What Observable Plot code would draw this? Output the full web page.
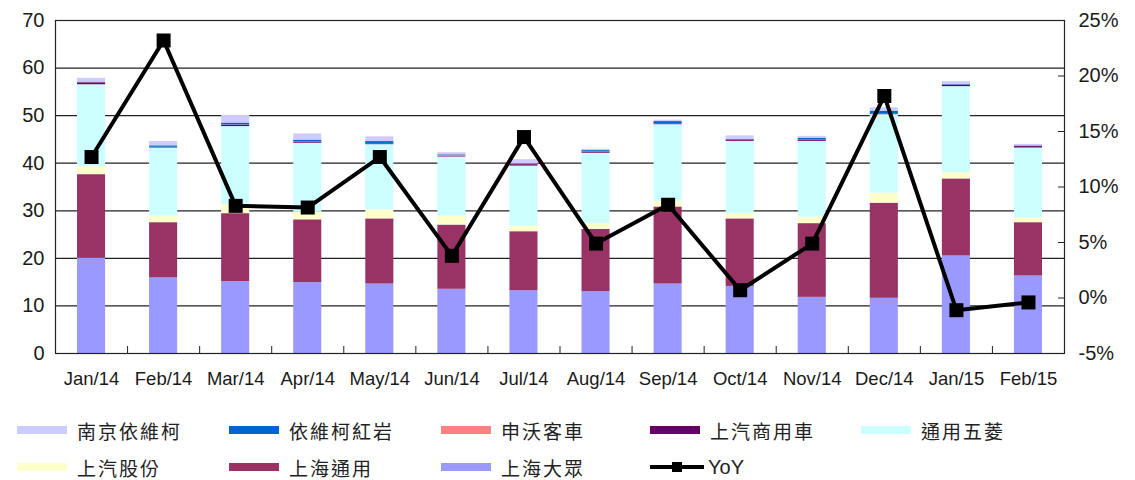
<!DOCTYPE html>
<html><head><meta charset="utf-8">
<script src="https://cdn.jsdelivr.net/npm/d3@7"></script>
<script src="https://cdn.jsdelivr.net/npm/@observablehq/plot@0.6"></script>
<style>
body{margin:0;background:#fff;}
#wrap{position:relative;width:1135px;height:480px;overflow:hidden;background:#fff;}
.lg{position:absolute;height:24px;display:flex;align-items:center;font-family:"Noto Sans CJK TC","Noto Sans CJK SC",sans-serif;font-size:19px;color:#222;letter-spacing:2px;white-space:nowrap;}
.sw{width:50px;height:8px;margin-right:10px;flex:none;}
.yoy{font-family:"Liberation Sans",Arial,sans-serif;letter-spacing:0;font-size:20px;}
</style></head><body><div id="wrap"></div>
<script>
const months = ["Jan/14","Feb/14","Mar/14","Apr/14","May/14","Jun/14","Jul/14","Aug/14","Sep/14","Oct/14","Nov/14","Dec/14","Jan/15","Feb/15"];
// stack order: bottom to top
const seriesNames = ["上海大眾","上海通用","上汽股份","通用五菱","上汽商用車","申沃客車","依維柯紅岩","南京依維柯"];
const seriesColors = ["#9999FF","#993366","#FFFFCC","#CCFFFF","#660066","#FF8080","#0066CC","#CCCCFF"];
const dazhong    = [20.0,15.9,15.1,14.9,14.6,13.5,13.2,13.0,14.6,14.1,11.8,11.6,20.5,16.3];
const gm         = [17.6,11.6,14.3,13.2,13.7,13.5,12.4,13.1,16.2,14.2,15.5,20.0,16.2,11.2];
const saic       = [1.7,1.4,1.9,1.6,1.9,1.9,1.2,1.2,1.2,1.1,1.4,2.1,1.3,1.0];
const wuling     = [17.2,14.3,16.4,14.5,13.7,12.4,12.6,14.8,16.1,15.2,15.9,16.5,18.1,14.7];
const commercial = [0.4,0.1,0.3,0.2,0.2,0.1,0.3,0.2,0.2,0.3,0.3,0.2,0.3,0.3];
const shenwo     = [0.05,0.05,0.05,0.05,0.05,0.3,0.05,0.05,0.05,0.05,0.05,0.05,0.05,0.05];
const hongyan    = [0.1,0.3,0.4,0.4,0.4,0.1,0.1,0.3,0.4,0.1,0.3,0.5,0.1,0.1];
const nanjing    = [0.8,0.9,1.6,1.3,1.0,0.4,0.9,0.3,0.3,0.7,0.4,0.7,0.6,0.3];
const yoy        = [12.7,23.2,8.3,8.15,12.7,3.8,14.5,4.9,8.4,0.7,4.9,18.2,-1.1,-0.4];
const leftTicks  = [0,10,20,30,40,50,60,70];
const rightTicks = [-5,0,5,10,15,20,25];
const rightTickLabels = ["-5%","0%","5%","10%","15%","20%","25%"];
const legendRow1 = ["南京依維柯","依維柯紅岩","申沃客車","上汽商用車","通用五菱"];
const legendRow2 = ["上汽股份","上海通用","上海大眾"];

const seriesValues = [dazhong,gm,saic,wuling,commercial,shenwo,hongyan,nanjing];
const long = [];
months.forEach((m,i)=>{
  seriesNames.forEach((s,k)=>{ long.push({i, month:m, series:s, value:seriesValues[k][i]}); });
});
const toLeft = d3.scaleLinear([-5,25],[0,70]);
const yoyRows = months.map((m,i)=>({i, month:m, v:yoy[i]}));
const centers = months.map((m,i)=>i+0.5);
const bounds = d3.range(1, months.length);

const chart = Plot.plot({
  width:1135, height:400,
  marginLeft:55, marginRight:71, marginTop:20, marginBottom:47,
  style:{fontFamily:"Liberation Sans, Arial, sans-serif", fontSize:"18px", color:"#1a1a1a", background:"#fff"},
  x:{domain:[0,months.length], axis:null},
  y:{domain:[0,70], axis:null},
  color:{domain:seriesNames, range:seriesColors},
  marks:[
    Plot.gridY(leftTicks, {stroke:"#222", strokeOpacity:1, strokeWidth:1.2}),
    Plot.rectY(long, {x:"i", interval:1, y:"value", fill:"series", insetLeft:22, insetRight:22}),
    Plot.frame({stroke:"#222", strokeWidth:1.2}),
    Plot.tickX(bounds, {x:d=>d, stroke:"#222", insetTop:326}),
    Plot.tickY(rightTicks, {y:d=>toLeft(d), stroke:"#222", insetLeft:1003}),
    Plot.axisY({ticks:leftTicks, tickSize:0, tickPadding:11, anchor:"left", label:null, fontSize:20}),
    Plot.axisY({ticks:rightTicks.map(d=>toLeft(d)), tickSize:0, tickPadding:14, anchor:"right", label:null, fontSize:20,
      tickFormat:(d)=>rightTickLabels[rightTicks.findIndex(t=>Math.abs(toLeft(t)-d)<1e-6)]}),
    Plot.axisX({ticks:centers, tickSize:0, tickPadding:18, anchor:"bottom", label:null, fontSize:18.5,
      tickFormat:(d)=>months[Math.floor(d)]}),
    Plot.line(yoyRows, {x:d=>d.i+0.5, y:d=>toLeft(d.v), stroke:"#000", strokeWidth:4}),
    Plot.dot(yoyRows, {x:d=>d.i+0.5, y:d=>toLeft(d.v), symbol:"square", r:7.9, fill:"#000", stroke:null})
  ]
});
const wrap = document.getElementById("wrap");
wrap.appendChild(chart);

const colorOf = s => seriesColors[seriesNames.indexOf(s)];
const col = [17,229,441,650,861];
function addItem(name, left, top){
  const d = document.createElement("div");
  d.className="lg"; d.style.left=left+"px"; d.style.top=top+"px";
  const sw = document.createElement("span"); sw.className="sw"; sw.style.background=colorOf(name);
  const t = document.createElement("span"); t.textContent=name;
  d.appendChild(sw); d.appendChild(t); wrap.appendChild(d);
}
legendRow1.forEach((n,k)=>addItem(n,col[k],418));
legendRow2.forEach((n,k)=>addItem(n,col[k],455));
const y = document.createElement("div");
y.className="lg yoy"; y.style.left=col[3]+"px"; y.style.top="455px";
y.innerHTML = '<svg width="54" height="14" style="margin-right:4px"><line x1="0" y1="7" x2="54" y2="7" stroke="#000" stroke-width="4"/><rect x="22" y="2" width="10" height="10" fill="#000"/></svg><span>YoY</span>';
wrap.appendChild(y);
</script></body></html>
